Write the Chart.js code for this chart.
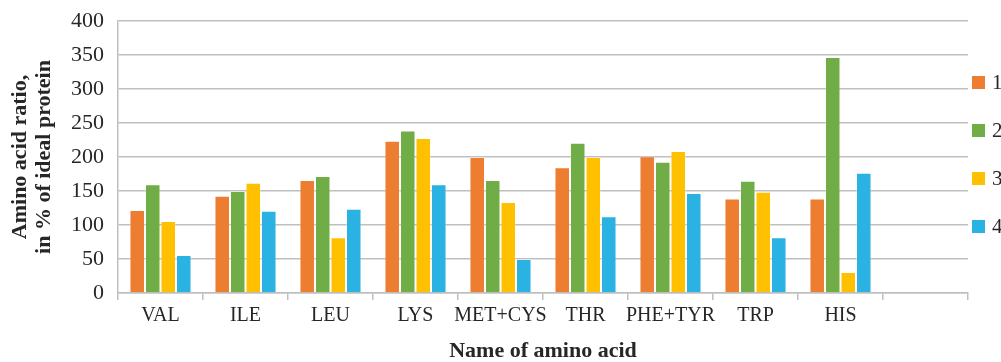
<!DOCTYPE html>
<html>
<head>
<meta charset="utf-8">
<script src="https://cdn.jsdelivr.net/npm/chart.js@4/dist/chart.umd.min.js"></script>
<style>
  html, body { margin: 0; padding: 0; background: #fff; }
  #wrap { position: relative; width: 1001px; height: 362px; }
  #legend { position: absolute; left: 972px; top: 70px; font-family: "Liberation Serif", serif; font-size: 21px; color: #262626; }
  .item { height: 48px; display: flex; align-items: flex-start; }
  .box { width: 13px; height: 13px; margin-top: 6px; margin-right: 7px; }
</style>
</head>
<body>
<div id="wrap">
  <canvas id="myChart" width="1001" height="362"></canvas>
  <div id="legend"></div>
</div>
<script>
// categorias del eje x (la ultima queda vacia como en el original)
const labels = ['VAL', 'ILE', 'LEU', 'LYS', 'MET+CYS', 'THR', 'PHE+TYR', 'TRP', 'HIS', ''];
const seriesNames = ['1', '2', '3', '4'];
const serie1 = [122, 143, 166, 224, 200, 185, 201, 139, 139, null];
const serie2 = [160, 150, 172, 239, 166, 221, 193, 165, 347, null];
const serie3 = [106, 162, 82, 228, 134, 200, 209, 149, 31, null];
const serie4 = [56, 121, 124, 160, 50, 113, 147, 82, 177, null];
const colores = ['#ED7D31', '#70AD47', '#FFC000', '#29B2E2'];
const yTicks = [0, 50, 100, 150, 200, 250, 300, 350, 400];

const valores = [serie1, serie2, serie3, serie4];
const textColor = '#262626';
const gridColor = '#BFBFBF';

const datasets = valores.map((v, i) => ({
  label: seriesNames[i],
  data: v,
  backgroundColor: colores[i],
  borderColor: 'rgba(255,255,255,0.25)',
  borderWidth: 1,
  barPercentage: 1,
  categoryPercentage: 0.73
}));

const ctx = document.getElementById('myChart');
new Chart(ctx, {
  type: 'bar',
  data: { labels: labels, datasets: datasets },
  options: {
    responsive: false,
    animation: false,
    layout: { padding: { top: 21, right: 33, left: 0, bottom: 0 } },
    plugins: { legend: { display: false }, tooltip: { enabled: false } },
    scales: {
      x: {
        offset: true,
        grid: { offset: true, drawOnChartArea: false, color: gridColor, tickLength: 7, lineWidth: 1.5 },
        border: { color: gridColor, width: 1.5 },
        ticks: { color: textColor, padding: 4, maxRotation: 0, minRotation: 0, autoSkip: false,
                 font: { family: 'Liberation Serif', size: 20 } },
        title: { display: true, text: 'Name of amino acid', color: textColor, padding: { top: 0, bottom: -3 },
                 font: { family: 'Liberation Serif', size: 22, weight: 'bold' } },
        afterFit: s => { s.height = 69; s.paddingLeft = 0; s.paddingRight = 0; }
      },
      y: {
        min: 0, max: 400,
        afterBuildTicks: s => { s.ticks = yTicks.map(v => ({ value: v })); },
        grid: { color: gridColor, lineWidth: 1.5, drawTicks: false },
        border: { color: gridColor, width: 1.5 },
        ticks: { color: textColor, padding: 14, font: { family: 'Liberation Serif', size: 22, lineHeight: 1 } },
        title: { display: true, text: ['Amino acid ratio,', 'in % of ideal protein'], color: textColor,
                 padding: { top: 8, bottom: 0 }, font: { family: 'Liberation Serif', size: 22, weight: 'bold', lineHeight: 1.1 } },
        afterFit: s => { s.width = 118; s.paddingTop = 0; s.paddingBottom = 0; }
      }
    }
  }
});

// leyenda a la derecha hecha en html
const legendEl = document.getElementById('legend');
seriesNames.forEach((n, i) => {
  const it = document.createElement('div');
  it.className = 'item';
  it.innerHTML = '<span class="box" style="background:' + colores[i] + '"></span><span>' + n + '</span>';
  legendEl.appendChild(it);
});
</script>
</body>
</html>
